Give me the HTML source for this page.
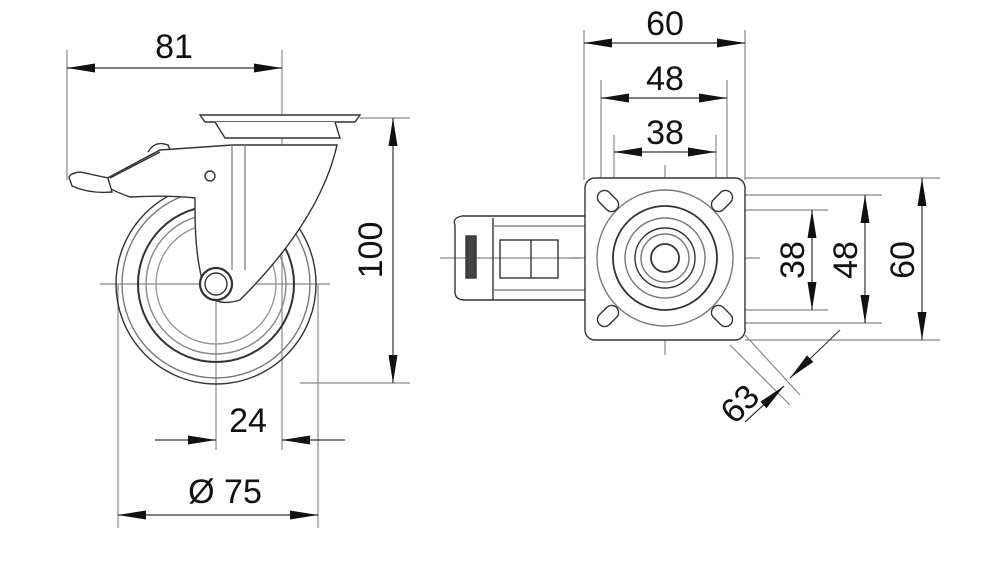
<!DOCTYPE html>
<html><head><meta charset="utf-8"><style>
html,body{margin:0;padding:0;background:#fff;}
svg{display:block}
text{font-family:"Liberation Sans Narrow","Liberation Sans",sans-serif;font-size:34px;fill:#111;text-anchor:middle}
</style></head><body>
<svg width="1000" height="565" viewBox="0 0 1000 565" xmlns="http://www.w3.org/2000/svg">
<defs>
<marker id="a" viewBox="0 0 28 9" refX="28" refY="4.5" markerWidth="28" markerHeight="9" markerUnits="userSpaceOnUse" orient="auto"><path d="M0,0 L28,4.5 L0,9Z" fill="#111"/></marker>
</defs>
<g stroke="#888" stroke-width="1.2" fill="none">
<line x1="67" y1="50" x2="67" y2="180"/>
<line x1="282" y1="50" x2="282" y2="450"/>
<line x1="360" y1="118" x2="410" y2="118"/>
<line x1="300" y1="383" x2="410" y2="383"/>
<line x1="216" y1="265" x2="216" y2="450"/>
<line x1="118" y1="285" x2="118" y2="528"/>
<line x1="318" y1="285" x2="318" y2="528"/>
<line x1="100" y1="284" x2="330" y2="284"/>
<line x1="584" y1="30" x2="584" y2="180"/>
<line x1="745" y1="30" x2="745" y2="180"/>
<line x1="601" y1="80" x2="601" y2="180"/>
<line x1="727" y1="80" x2="727" y2="180"/>
<line x1="614" y1="135" x2="614" y2="180"/>
<line x1="716" y1="135" x2="716" y2="180"/>
<line x1="745" y1="178" x2="940" y2="178"/>
<line x1="745" y1="340" x2="940" y2="340"/>
<line x1="735" y1="195" x2="882" y2="195"/>
<line x1="735" y1="323" x2="882" y2="323"/>
<line x1="735" y1="210" x2="828" y2="210"/>
<line x1="735" y1="310" x2="828" y2="310"/>
<line x1="665" y1="165" x2="665" y2="355"/>
<line x1="570" y1="258" x2="760" y2="258"/>
<line x1="440" y1="258" x2="580" y2="258"/>
<line x1="745" y1="335" x2="800" y2="395"/>
<line x1="730" y1="345" x2="790" y2="405"/>
</g>
<g stroke="#333" stroke-width="1.2" fill="none">
<line x1="393" y1="250" x2="393" y2="383" marker-end="url(#a)"/>
<line x1="393" y1="250" x2="393" y2="118" marker-end="url(#a)"/>
<line x1="155" y1="440" x2="216" y2="440" marker-end="url(#a)"/>
<line x1="345" y1="440" x2="282" y2="440" marker-end="url(#a)"/>
<line x1="200" y1="515" x2="118" y2="515" marker-end="url(#a)"/>
<line x1="200" y1="515" x2="318" y2="515" marker-end="url(#a)"/>
<line x1="175" y1="68" x2="67" y2="68" marker-end="url(#a)"/>
<line x1="175" y1="68" x2="282" y2="68" marker-end="url(#a)"/>
<line x1="665" y1="43" x2="584" y2="43" marker-end="url(#a)"/>
<line x1="665" y1="43" x2="745" y2="43" marker-end="url(#a)"/>
<line x1="665" y1="98" x2="601" y2="98" marker-end="url(#a)"/>
<line x1="665" y1="98" x2="727" y2="98" marker-end="url(#a)"/>
<line x1="665" y1="152" x2="614" y2="152" marker-end="url(#a)"/>
<line x1="665" y1="152" x2="716" y2="152" marker-end="url(#a)"/>
<line x1="812" y1="260" x2="812" y2="210" marker-end="url(#a)"/>
<line x1="812" y1="260" x2="812" y2="310" marker-end="url(#a)"/>
<line x1="865" y1="260" x2="865" y2="195" marker-end="url(#a)"/>
<line x1="865" y1="260" x2="865" y2="323" marker-end="url(#a)"/>
<line x1="922" y1="260" x2="922" y2="178" marker-end="url(#a)"/>
<line x1="922" y1="260" x2="922" y2="340" marker-end="url(#a)"/>
<line x1="840" y1="330" x2="790" y2="378" marker-end="url(#a)"/>
<line x1="745" y1="422" x2="784" y2="386" marker-end="url(#a)"/>
</g>
<g stroke="#333" stroke-width="1.4" fill="none">
<circle cx="216" cy="284" r="100"/>
<circle cx="216" cy="284" r="94" stroke="#777"/>
<circle cx="216" cy="284" r="78" stroke-width="2"/>
<circle cx="216" cy="284" r="70" stroke="#888"/>
<circle cx="216" cy="284" r="60" stroke="#999"/>
<path d="M200,115 H360 L355,122 H205Z" fill="#fff"/>
<path d="M215,122 L225,138 H340 L335,122" fill="#fff"/>
<path d="M160,150 L232,145 H337 Q320,220 240,300 Q215,308 205,290 Q195,260 195,210 L195,198 Q170,195 130,197 Q110,190 100,182 Z" fill="#fff"/>
<circle cx="216" cy="284" r="16" stroke-width="2.2" fill="#fff"/>
<circle cx="216" cy="284" r="11"/>
<path d="M148,152 Q155,140 168,145 L170,150" />
<path d="M70,180 Q66,174 80,172 L108,178 L112,192 Q90,194 72,186Z" fill="#fff"/>
<line x1="110" y1="178" x2="160" y2="152"/>
<circle cx="210" cy="176" r="5"/>
<line x1="232" y1="145" x2="232" y2="270" stroke="#888"/>
<line x1="245" y1="145" x2="245" y2="270" stroke="#888"/>
</g>
<g stroke="#333" stroke-width="1.4" fill="none">
<path d="M455,225 Q452,218 462,216 L585,216 M455,225 V292 Q455,300 465,300 H585" />
<line x1="493" y1="218" x2="493" y2="300"/>
<line x1="493" y1="226" x2="585" y2="226" stroke="#888"/>
<line x1="493" y1="290" x2="585" y2="290" stroke="#888"/>
<rect x="466" y="236" width="10" height="42" fill="#444"/>
<rect x="500" y="240" width="58" height="38"/>
<line x1="531" y1="240" x2="531" y2="278"/>
<rect x="585" y="178" width="160" height="162" rx="10" fill="#fff"/>
<circle cx="665" cy="258" r="68" stroke="#777"/>
<circle cx="665" cy="258" r="52" stroke-width="1.8"/>
<circle cx="665" cy="258" r="40" stroke="#777"/>
<circle cx="665" cy="258" r="30"/>
<circle cx="665" cy="258" r="24" stroke="#777"/>
<circle cx="665" cy="258" r="14" stroke-width="1.8"/>
<g transform="rotate(45 608 201)"><rect x="596" y="194" width="24" height="14" rx="7"/></g>
<g transform="rotate(-45 722 201)"><rect x="710" y="194" width="24" height="14" rx="7"/></g>
<g transform="rotate(-45 608 316)"><rect x="596" y="309" width="24" height="14" rx="7"/></g>
<g transform="rotate(45 722 316)"><rect x="710" y="309" width="24" height="14" rx="7"/></g>
</g>
<text x="174" y="58">81</text>
<text x="0" y="0" transform="translate(382,250) rotate(-90)">100</text>
<text x="248" y="432">24</text>
<text x="225" y="503">Ø 75</text>
<text x="665" y="35">60</text>
<text x="665" y="90">48</text>
<text x="665" y="144">38</text>
<text x="0" y="0" transform="translate(804,260) rotate(-90)">38</text>
<text x="0" y="0" transform="translate(857,260) rotate(-90)">48</text>
<text x="0" y="0" transform="translate(914,260) rotate(-90)">60</text>
<text x="0" y="0" transform="translate(748,412) rotate(-45)">63</text>
</svg>
</body></html>
